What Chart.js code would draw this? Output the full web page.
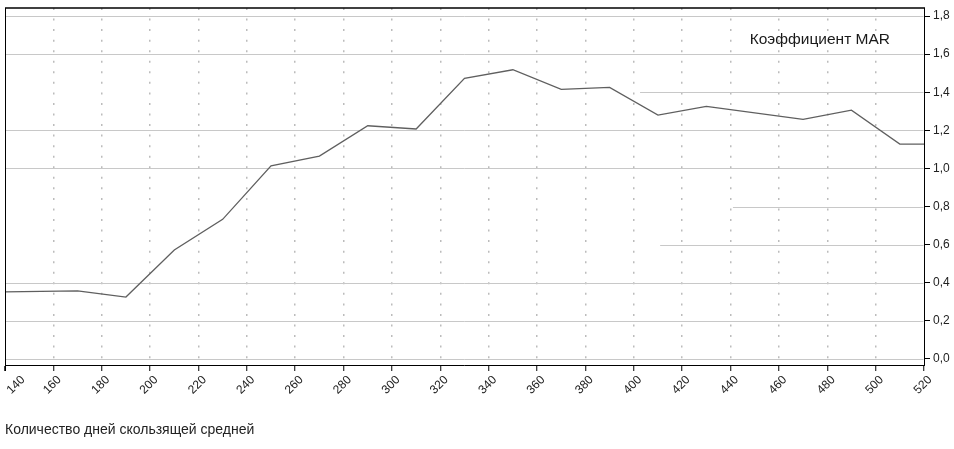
<!DOCTYPE html>
<html lang="ru">
<head>
<meta charset="utf-8">
<title>Коэффициент MAR</title>
<script src="https://cdn.jsdelivr.net/npm/chart.js@4.4.1/dist/chart.umd.min.js"></script>
<style>
  html, body { margin: 0; padding: 0; background: #fff; }
  #marChart { display: block; }
</style>
</head>
<body>
<canvas id="marChart" width="954" height="449"></canvas>
<script>
/* MAR ratio vs. moving average length */

const days = [140, 170, 190, 210, 230, 250, 270, 290, 310, 330, 350, 370, 390, 410, 430, 470, 490, 510, 520];
const marValues = [0.352, 0.357, 0.325, 0.572, 0.733, 1.014, 1.065, 1.224, 1.207, 1.473, 1.518, 1.415, 1.425, 1.28, 1.326, 1.258, 1.306, 1.128, 1.128];

const xTickValues = [140, 160, 180, 200, 220, 240, 260, 280, 300, 320, 340, 360, 380, 400, 420, 440, 460, 480, 500, 520];
const yTickValues = [0, 0.2, 0.4, 0.6, 0.8, 1.0, 1.2, 1.4, 1.6, 1.8];

const seriesLabel = 'Коэффициент MAR';
const xAxisTitle = 'Количество дней скользящей средней';

// some horizontal grid lines only start part way across (value -> day where it starts)
const gridStartAt = { '1.4': 402.6, '0.8': 441, '0.6': 410.9 };

const FONT = '"Liberation Sans", Arial, sans-serif';
const TEXT = '#222';

const fmtY = v => v.toFixed(1).replace('.', ',');

const marDecorPlugin = {
    id: 'marDecor',
    beforeDatasetsDraw(chart) {
        const { ctx, chartArea: area, scales: { x, y } } = chart;
        ctx.save();
        ctx.strokeStyle = '#c8c8c8';
        ctx.lineWidth = 1;
        yTickValues.forEach(v => {
            const py = Math.round(y.getPixelForValue(v)) + 0.5;
            const start = gridStartAt[v.toFixed(1)];
            const x0 = start != null ? x.getPixelForValue(start) : area.left;
            ctx.beginPath();
            ctx.moveTo(x0, py);
            ctx.lineTo(area.right - 0.5, py);
            ctx.stroke();
        });
        ctx.restore();
    },
    afterDraw(chart) {
        const { ctx, chartArea: area, scales: { x } } = chart;
        ctx.save();

        // frame: top and left edges
        ctx.strokeStyle = '#000';
        ctx.lineWidth = 1.5;
        ctx.beginPath();
        ctx.moveTo(area.left, area.top);
        ctx.lineTo(area.right + 1, area.top);
        ctx.stroke();
        ctx.lineWidth = 1;
        ctx.beginPath();
        ctx.moveTo(area.left + 0.5, area.top);
        ctx.lineTo(area.left + 0.5, area.bottom + 6);
        ctx.stroke();

        // rotated x labels, centred on their ticks, kept inside the canvas
        ctx.font = '12px ' + FONT;
        ctx.fillStyle = TEXT;
        ctx.textAlign = 'center';
        ctx.textBaseline = 'middle';
        x.ticks.forEach(t => {
            const px = Math.max(x.getPixelForValue(t.value) - 1, area.left + 11);
            ctx.save();
            ctx.translate(px, area.bottom + 20);
            ctx.rotate(-Math.PI / 4);
            ctx.fillText(String(t.value), 0, 0);
            ctx.restore();
        });

        // series name in the top right corner
        ctx.font = '15.5px ' + FONT;
        ctx.textAlign = 'right';
        ctx.textBaseline = 'alphabetic';
        ctx.fillStyle = '#1a1a1a';
        ctx.fillText(seriesLabel, area.right - 34, area.top + 35.5);

        ctx.restore();
    }
};

function createMarChart() {
    const canvas = document.getElementById('marChart');
    const ctx = canvas.getContext('2d');
    const lastX = xTickValues.length - 1;

    return new Chart(ctx, {
        type: 'line',
        data: {
            datasets: [{
                label: seriesLabel,
                data: days.map((d, i) => ({ x: d, y: marValues[i] })),
                borderColor: '#5f5f5f',
                borderWidth: 1.3,
                pointRadius: 0,
                tension: 0,
                fill: false
            }]
        },
        options: {
            responsive: false,
            animation: false,
            devicePixelRatio: 1,
            layout: { padding: { left: 5, top: 8, right: 0, bottom: 0 } },
            scales: {
                x: {
                    type: 'linear',
                    min: 140,
                    max: 520,
                    afterBuildTicks: s => { s.ticks = xTickValues.map(v => ({ value: v })); },
                    afterFit: s => { s.height = 84; s.paddingLeft = 0; s.paddingRight = 0; },
                    ticks: { display: false },
                    grid: {
                        color: c => (c.index === 0 || c.index === lastX) ? 'rgba(0,0,0,0)' : '#bcbcbc',
                        lineWidth: 1.5,
                        tickColor: '#000',
                        tickWidth: 1,
                        tickLength: 6
                    },
                    border: { color: '#000', width: 1, dash: [2, 8.55] },
                    title: {
                        display: true,
                        text: xAxisTitle,
                        align: 'start',
                        color: TEXT,
                        font: { family: FONT, size: 14 },
                        padding: { top: 0, bottom: 10.5 }
                    }
                },
                y: {
                    position: 'right',
                    min: -0.0315,
                    max: 1.842,
                    afterBuildTicks: s => { s.ticks = yTickValues.map(v => ({ value: v })); },
                    afterFit: s => { s.width = 30; s.paddingTop = 0; s.paddingBottom = 0; },
                    ticks: {
                        padding: 3,
                        color: TEXT,
                        font: { family: FONT, size: 12 },
                        callback: v => fmtY(v)
                    },
                    grid: {
                        drawOnChartArea: false,
                        drawTicks: true,
                        tickLength: 6,
                        tickColor: '#000',
                        color: '#000'
                    },
                    border: { color: '#000', width: 1 }
                }
            },
            plugins: {
                legend: { display: false },
                tooltip: { enabled: false }
            }
        },
        plugins: [marDecorPlugin]
    });
}

createMarChart();
</script>
</body>
</html>
